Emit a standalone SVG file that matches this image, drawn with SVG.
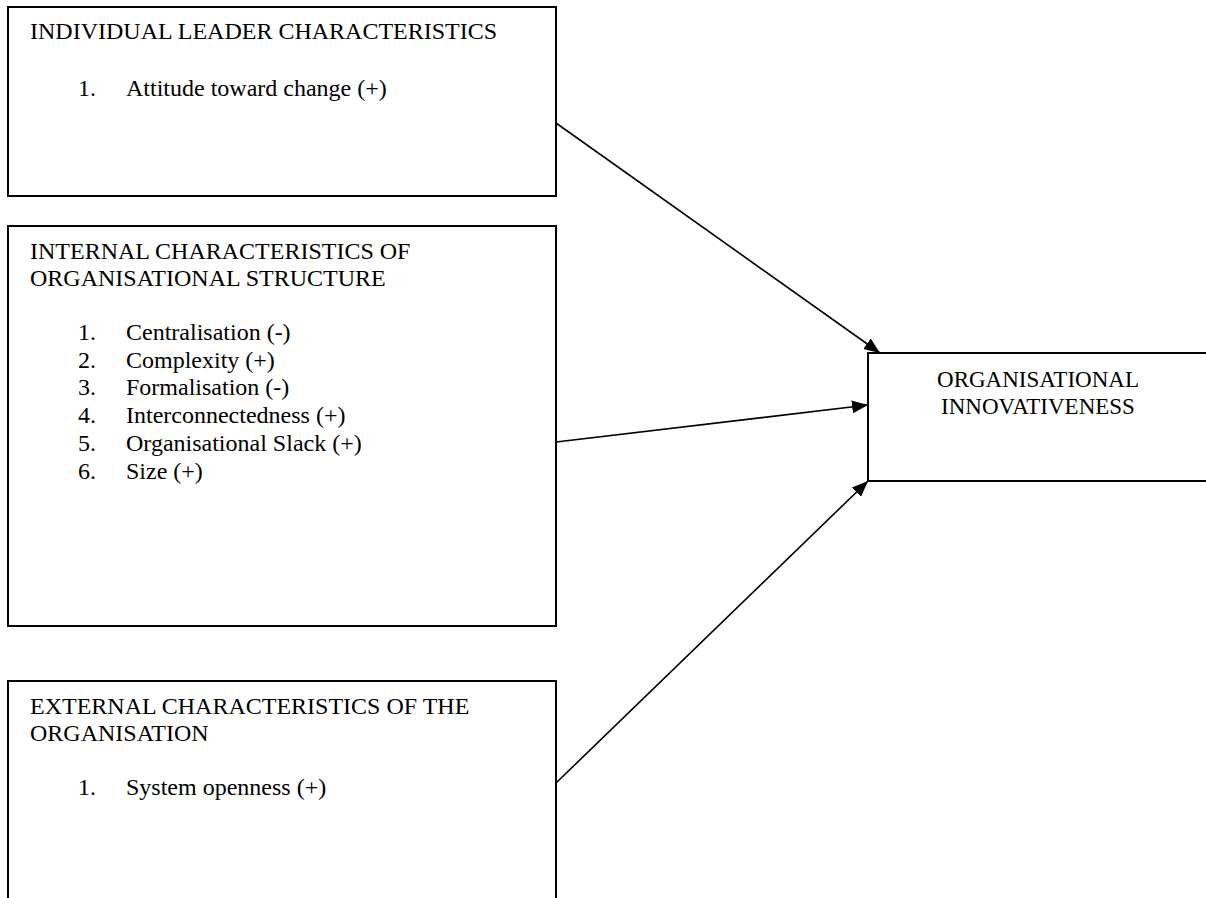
<svg xmlns="http://www.w3.org/2000/svg" width="1206" height="898" viewBox="0 0 1206 898">
  <style>
    .box { fill: #ffffff; stroke: #000000; stroke-width: 2; }
    .txt { font-family: "Liberation Serif", "Times New Roman", serif; font-size: 24px; fill: #000000; }
    .out { font-size: 23px; text-anchor: middle; }
    .link { stroke: #000000; stroke-width: 1.6; fill: none; marker-end: url(#arrow); }
  </style>
  <defs>
    <marker id="arrow" markerUnits="userSpaceOnUse" markerWidth="17" markerHeight="13" refX="16" refY="6.5" orient="auto">
      <path d="M0,0 L16,6.5 L0,13 z" fill="#000000"/>
    </marker>
  </defs>
  <rect width="1206" height="898" fill="#ffffff"/>

  <!-- Leader characteristics -->
  <g id="leader">
    <rect class="box" x="8" y="7" width="548" height="189"/>
    <text class="txt" x="30" y="39">INDIVIDUAL LEADER CHARACTERISTICS</text>
    <text class="txt" x="78" y="96">1.</text>
    <text class="txt" x="126" y="96">Attitude toward change (+)</text>
  </g>

  <!-- Internal structure -->
  <g id="internal">
    <rect class="box" x="8" y="226" width="548" height="400"/>
    <text class="txt" x="30" y="259">INTERNAL CHARACTERISTICS OF</text>
    <text class="txt" x="30" y="286">ORGANISATIONAL STRUCTURE</text>
    <text class="txt" x="78" y="340">1.</text>
    <text class="txt" x="126" y="340">Centralisation (-)</text>
    <text class="txt" x="78" y="367.7">2.</text>
    <text class="txt" x="126" y="367.7">Complexity (+)</text>
    <text class="txt" x="78" y="395.4">3.</text>
    <text class="txt" x="126" y="395.4">Formalisation (-)</text>
    <text class="txt" x="78" y="423.1">4.</text>
    <text class="txt" x="126" y="423.1">Interconnectedness (+)</text>
    <text class="txt" x="78" y="450.8">5.</text>
    <text class="txt" x="126" y="450.8">Organisational Slack (+)</text>
    <text class="txt" x="78" y="478.5">6.</text>
    <text class="txt" x="126" y="478.5">Size (+)</text>
  </g>

  <!-- External characteristics -->
  <g id="external">
    <rect class="box" x="8" y="681" width="548" height="230"/>
    <text class="txt" x="30" y="714">EXTERNAL CHARACTERISTICS OF THE</text>
    <text class="txt" x="30" y="741">ORGANISATION</text>
    <text class="txt" x="78" y="795">1.</text>
    <text class="txt" x="126" y="795">System openness (+)</text>
  </g>

  <!-- Outcome -->
  <g id="innovativeness">
    <rect class="box" x="868" y="353" width="350" height="128"/>
    <text class="txt out" x="1038" y="387">ORGANISATIONAL</text>
    <text class="txt out" x="1038" y="414">INNOVATIVENESS</text>
  </g>

  <g id="connectors">
    <line class="link" x1="556" y1="123" x2="880" y2="353"/>
    <line class="link" x1="556" y1="442" x2="868" y2="405"/>
    <line class="link" x1="556" y1="783" x2="868" y2="481"/>
  </g>
</svg>
